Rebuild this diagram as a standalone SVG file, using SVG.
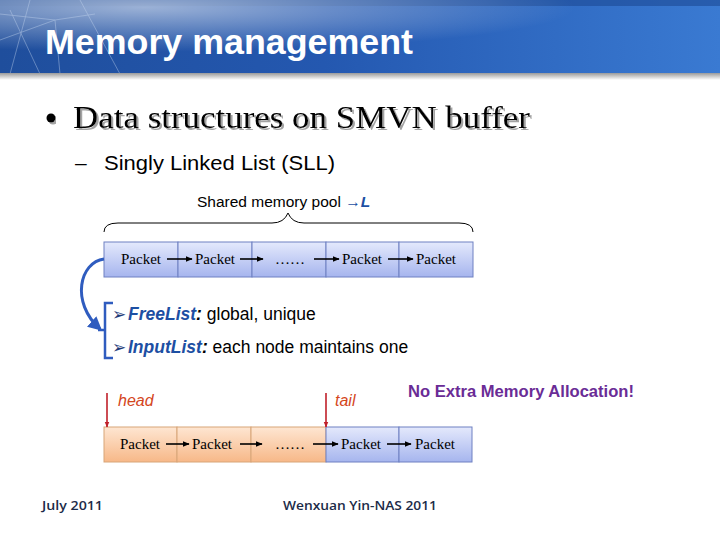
<svg xmlns="http://www.w3.org/2000/svg" width="720" height="540" viewBox="0 0 720 540">
<defs>
<linearGradient id="hdr" x1="0" y1="0" x2="1" y2="0">
<stop offset="0" stop-color="#1f4e9c"/>
<stop offset="0.45" stop-color="#2458b0"/>
<stop offset="1" stop-color="#3a7ad2"/>
</linearGradient>
<radialGradient id="glow" cx="0.2" cy="0.1" r="0.6">
<stop offset="0" stop-color="#ffffff" stop-opacity="0.55"/>
<stop offset="1" stop-color="#ffffff" stop-opacity="0"/>
</radialGradient>
<linearGradient id="shade" x1="0" y1="0" x2="0" y2="1">
<stop offset="0" stop-color="#9a9a9a"/>
<stop offset="1" stop-color="#ffffff"/>
</linearGradient>
<linearGradient id="blueBox" x1="0" y1="0" x2="0" y2="1">
<stop offset="0" stop-color="#e4e9fc"/>
<stop offset="1" stop-color="#a6b5ee"/>
</linearGradient>
<linearGradient id="orangeBox" x1="0" y1="0" x2="0" y2="1">
<stop offset="0" stop-color="#fee6d2"/>
<stop offset="1" stop-color="#f7b888"/>
</linearGradient>
<filter id="tshadow" x="-5%" y="-20%" width="110%" height="140%">
<feDropShadow dx="2" dy="2" stdDeviation="0.6" flood-color="#999999" flood-opacity="0.9"/>
</filter>
<marker id="blk" viewBox="0 0 10 10" refX="9" refY="5" markerWidth="7" markerHeight="7" markerUnits="userSpaceOnUse" orient="auto">
<path d="M0,1 L10,5 L0,9 Z" fill="#000"/>
</marker>
<marker id="red" viewBox="0 0 10 10" refX="9" refY="5" markerWidth="6" markerHeight="6" markerUnits="userSpaceOnUse" orient="auto">
<path d="M0,1 L10,5 L0,9 Z" fill="#c0202a"/>
</marker>
<marker id="blu" viewBox="0 0 10 10" refX="8" refY="5" markerWidth="14" markerHeight="14" markerUnits="userSpaceOnUse" orient="auto">
<path d="M0,0 L10,5 L0,10 Z" fill="#2f5cbf"/>
</marker>
</defs>
<style>
.pk{font-family:"Liberation Serif","Times New Roman",serif;font-size:15px;fill:#000}
.bb{fill:url(#blueBox);stroke:#6e80c2;stroke-width:1}
.ob{fill:url(#orangeBox);stroke:#d8a578;stroke-width:1}
.ln{stroke:#000;stroke-width:1.6;fill:none;marker-end:url(#blk)}
.rl{stroke:#c0202a;stroke-width:1.6;fill:none;marker-end:url(#red)}
.sans{font-family:"Liberation Sans",Arial,sans-serif}
.foot{font-family:"Open Sans","Noto Sans",sans-serif;font-size:13px;font-weight:600;fill:#1c2b48}
.kw{fill:#1d4fa3;font-weight:bold;font-style:italic}
.arrbul{font-family:"DejaVu Sans",sans-serif;font-size:17px;fill:#1d3a78}
</style>

<rect width="720" height="540" fill="#ffffff"/>
<!-- header -->
<rect x="0" y="0" width="720" height="74" fill="url(#hdr)"/>
<rect x="0" y="0" width="720" height="6" fill="#1d4a94" opacity="0.6"/>
<rect x="0" y="0" width="720" height="74" fill="url(#glow)"/>
<g stroke="#c8d8f0" stroke-width="0.8" opacity="0.5" fill="none">
<path d="M0,14 L55,20 L95,14"/>
<path d="M10,10 L40,74"/>
<path d="M55,20 L60,74"/>
<path d="M0,40 L55,20"/>
<path d="M30,0 L10,74"/>
<path d="M80,0 L120,74"/>
</g>
<rect x="0" y="73" width="720" height="7" fill="url(#shade)"/>
<text x="45" y="54" class="sans" font-size="35" font-weight="bold" fill="#ffffff" textLength="368" lengthAdjust="spacingAndGlyphs">Memory management</text>

<!-- bullets -->
<circle cx="51" cy="118" r="4.5" fill="#000" filter="url(#tshadow)"/>
<text x="73" y="128" font-family="Liberation Serif,serif" font-size="31" fill="#000" filter="url(#tshadow)" textLength="457" lengthAdjust="spacingAndGlyphs">Data structures on SMVN buffer</text>
<text x="75" y="170" class="sans" font-size="21" fill="#000">–</text>
<text x="104" y="170" class="sans" font-size="21" fill="#000" textLength="231" lengthAdjust="spacingAndGlyphs">Singly Linked List (SLL)</text>

<!-- pool label and brace -->
<text x="197" y="207" class="sans" font-size="15.5" fill="#000">Shared memory pool <tspan fill="#1d4fa3" font-style="italic">→</tspan><tspan fill="#1d4fa3" font-style="italic" font-weight="bold">L</tspan></text>
<path d="M104,232 Q104,223 118,223 L272,223 Q284,223 288,213 Q292,223 304,223 L459,223 Q473,223 473,232" fill="none" stroke="#000" stroke-width="1"/>

<!-- top row -->
<g id="top1"><rect class="bb" x="104" y="242" width="74" height="35"/><text class="pk" x="121" y="264">Packet</text></g>
<g id="top2"><rect class="bb" x="178" y="242" width="74" height="35"/><text class="pk" x="195" y="264">Packet</text></g>
<g id="top3"><rect class="bb" x="252" y="242" width="74" height="35"/><text class="pk" x="275" y="264">……</text></g>
<g id="top4"><rect class="bb" x="326" y="242" width="73" height="35"/><text class="pk" x="342" y="264">Packet</text></g>
<g id="top5"><rect class="bb" x="399" y="242" width="74" height="35"/><text class="pk" x="416" y="264">Packet</text></g>

<!-- bottom row -->
<g id="bot1"><rect class="ob" x="104" y="427" width="73" height="35"/><text class="pk" x="120" y="449">Packet</text></g>
<g id="bot2"><rect class="ob" x="177" y="427" width="74" height="35"/><text class="pk" x="192" y="449">Packet</text></g>
<g id="bot3"><rect class="ob" x="251" y="427" width="75" height="35"/><text class="pk" x="275" y="449">……</text></g>
<g id="bot4"><rect class="bb" x="326" y="427" width="73" height="35"/><text class="pk" x="341" y="449">Packet</text></g>
<g id="bot5"><rect class="bb" x="399" y="427" width="73" height="35"/><text class="pk" x="415" y="449">Packet</text></g>

<!-- connectors -->
<g id="connectors">
<line class="ln" x1="167" y1="259" x2="192" y2="259"/>
<line class="ln" x1="240" y1="259" x2="263" y2="259"/>
<line class="ln" x1="314" y1="259" x2="339" y2="259"/>
<line class="ln" x1="388" y1="259" x2="413" y2="259"/>
<line class="ln" x1="166" y1="444" x2="189" y2="444"/>
<line class="ln" x1="240" y1="444" x2="262" y2="444"/>
<line class="ln" x1="313" y1="444" x2="338" y2="444"/>
<line class="ln" x1="387" y1="444" x2="411" y2="444"/>
<line class="rl" x1="107" y1="393" x2="107" y2="427"/>
<line class="rl" x1="326" y1="393" x2="326" y2="427"/>
<path d="M104,259 C80,262 70,302 100,329" fill="none" stroke="#2f5cbf" stroke-width="3" marker-end="url(#blu)"/>
</g>

<!-- bracket -->
<path d="M113,303 L105,303 L105,358 L113,358 M105,330 L98,330" fill="none" stroke="#2f5cbf" stroke-width="2.5"/>

<text x="112" y="320" class="arrbul">➢</text>
<text x="128" y="320" class="sans" font-size="17.5" fill="#000"><tspan class="kw">FreeList</tspan><tspan font-style="italic" font-weight="bold">:</tspan> global, unique</text>
<text x="112" y="353" class="arrbul">➢</text>
<text x="128" y="353" class="sans" font-size="17.5" fill="#000"><tspan class="kw">InputList</tspan><tspan font-style="italic" font-weight="bold">:</tspan> each node maintains one</text>

<text x="118" y="406" class="sans" font-size="16" font-style="italic" fill="#d4461c">head</text>
<text x="335" y="406" class="sans" font-size="16" font-style="italic" fill="#d4461c">tail</text>
<text x="408" y="397" class="sans" font-size="16.5" font-weight="bold" fill="#6a2c96" textLength="226" lengthAdjust="spacingAndGlyphs">No Extra Memory Allocation!</text>

<!-- footer -->
<text x="42" y="510" class="foot" textLength="61" lengthAdjust="spacingAndGlyphs">July 2011</text>
<text x="283" y="510" class="foot" textLength="154" lengthAdjust="spacingAndGlyphs">Wenxuan Yin-NAS 2011</text>
</svg>
